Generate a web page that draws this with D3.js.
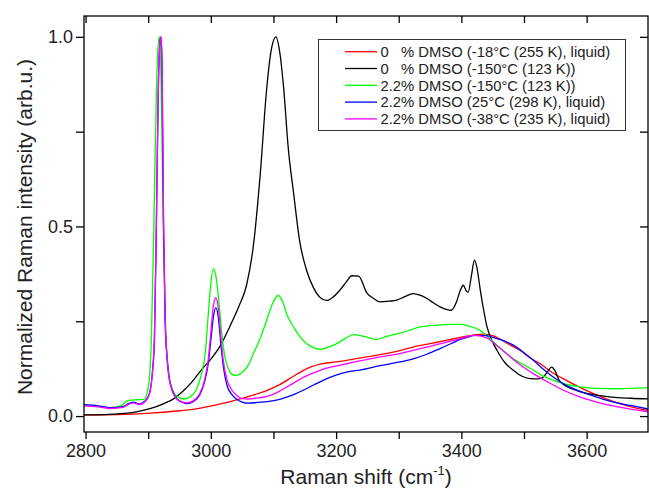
<!DOCTYPE html>
<html>
<head>
<meta charset="utf-8">
<script src="https://cdn.jsdelivr.net/npm/d3@7"></script>
<style>
  body { margin: 0; background: #fff; }
  svg { display: block; font-family: "Liberation Sans", Arial, sans-serif; }
</style>
</head>
<body>
<div id="chart"></div>
<script>
// spectra: [Raman shift (cm-1), normalized intensity]
const water255 = [[2797,0.003],[2850,0.004],[2904,0.008],[2950,0.014],[2984,0.021],[3010,0.03],[3037,0.041],[3065,0.054],[3090,0.068],[3110,0.083],[3130,0.103],[3145,0.118],[3160,0.13],[3175,0.137],[3200,0.143],[3217,0.147],[3245,0.155],[3270,0.162],[3300,0.172],[3323,0.182],[3350,0.191],[3377,0.2],[3400,0.208],[3420,0.214],[3435,0.216],[3450,0.212],[3462,0.203],[3475,0.19],[3494,0.173],[3510,0.153],[3526,0.138],[3545,0.115],[3568,0.094],[3590,0.075],[3611,0.059],[3630,0.046],[3653,0.033],[3675,0.023],[3700,0.014]];

const water123 = [[2797,0.003],[2830,0.004],[2860,0.007],[2877,0.01],[2904,0.02],[2925,0.033],[2941,0.046],[2955,0.065],[2970,0.09],[2984,0.12],[3000,0.15],[3015,0.185],[3030,0.235],[3045,0.29],[3057,0.345],[3068,0.45],[3079,0.64],[3089,0.86],[3097,0.97],[3104,1.0],[3110,0.96],[3116,0.87],[3124,0.7],[3132,0.59],[3142,0.46],[3153,0.384],[3164,0.338],[3175,0.312],[3185,0.305],[3196,0.315],[3206,0.332],[3217,0.355],[3225,0.37],[3236,0.369],[3249,0.325],[3260,0.31],[3270,0.301],[3285,0.303],[3297,0.306],[3310,0.315],[3323,0.323],[3335,0.318],[3345,0.31],[3356,0.298],[3366,0.288],[3384,0.279],[3392,0.3],[3398,0.33],[3403,0.345],[3408,0.33],[3411,0.327],[3416,0.37],[3421,0.411],[3425,0.39],[3430,0.335],[3435,0.285],[3441,0.235],[3450,0.195],[3457,0.173],[3470,0.14],[3483,0.121],[3497,0.105],[3510,0.099],[3522,0.098],[3531,0.103],[3538,0.118],[3544,0.129],[3550,0.118],[3556,0.095],[3563,0.083],[3580,0.07],[3600,0.06],[3616,0.055],[3640,0.05],[3670,0.047],[3700,0.045]];

const dmso123 = [[2797,0.028],[2820,0.025],[2840,0.022],[2858,0.028],[2866,0.04],[2880,0.043],[2893,0.044],[2900,0.075],[2905,0.2],[2909,0.5],[2913,0.85],[2916,0.98],[2918,1.0],[2920,0.94],[2924,0.5],[2928,0.22],[2933,0.11],[2940,0.065],[2948,0.05],[2956,0.045],[2966,0.05],[2977,0.07],[2985,0.11],[2991,0.165],[2996,0.27],[3000,0.35],[3004,0.389],[3008,0.37],[3013,0.3],[3018,0.21],[3022,0.16],[3028,0.125],[3034,0.11],[3040,0.107],[3050,0.115],[3060,0.135],[3068,0.165],[3080,0.21],[3089,0.252],[3098,0.295],[3108,0.318],[3115,0.3],[3122,0.265],[3132,0.235],[3142,0.21],[3153,0.191],[3165,0.18],[3176,0.176],[3190,0.183],[3201,0.191],[3215,0.205],[3228,0.215],[3245,0.21],[3265,0.202],[3280,0.21],[3297,0.217],[3315,0.225],[3334,0.235],[3360,0.24],[3382,0.242],[3400,0.242],[3410,0.238],[3430,0.226],[3445,0.205],[3457,0.187],[3470,0.168],[3483,0.151],[3500,0.135],[3515,0.121],[3530,0.106],[3547,0.094],[3565,0.085],[3590,0.077],[3615,0.073],[3643,0.072],[3670,0.073],[3700,0.075]];

const dmso298 = [[2797,0.03],[2820,0.027],[2840,0.022],[2860,0.025],[2870,0.034],[2877,0.037],[2885,0.032],[2895,0.04],[2902,0.06],[2907,0.12],[2910,0.2],[2913,0.5],[2916,0.85],[2919,0.99],[2920.5,1.0],[2922,0.93],[2924.5,0.5],[2927,0.25],[2932,0.12],[2938,0.07],[2946,0.045],[2955,0.036],[2962,0.033],[2972,0.038],[2982,0.055],[2990,0.09],[2996,0.14],[3000,0.2],[3004,0.26],[3008,0.286],[3012,0.26],[3016,0.19],[3020,0.13],[3026,0.08],[3033,0.058],[3041,0.045],[3050,0.037],[3060,0.034],[3075,0.036],[3090,0.038],[3110,0.044],[3130,0.055],[3150,0.07],[3164,0.082],[3180,0.095],[3200,0.108],[3217,0.116],[3240,0.122],[3270,0.133],[3300,0.142],[3323,0.151],[3345,0.163],[3366,0.178],[3385,0.192],[3398,0.202],[3410,0.208],[3422,0.213],[3440,0.212],[3455,0.205],[3470,0.197],[3483,0.187],[3500,0.167],[3515,0.147],[3530,0.125],[3545,0.105],[3563,0.085],[3590,0.065],[3616,0.05],[3640,0.038],[3670,0.028],[3700,0.018]];

const dmso235 = [[2797,0.027],[2820,0.024],[2840,0.02],[2860,0.023],[2870,0.032],[2877,0.035],[2885,0.03],[2895,0.038],[2902,0.058],[2907,0.12],[2910,0.22],[2913,0.5],[2916,0.85],[2919,0.99],[2920.5,1.0],[2922,0.94],[2924.5,0.52],[2927,0.26],[2932,0.12],[2938,0.068],[2946,0.045],[2955,0.037],[2962,0.035],[2972,0.04],[2982,0.058],[2990,0.095],[2996,0.15],[3000,0.22],[3004,0.29],[3008,0.312],[3012,0.285],[3016,0.21],[3020,0.145],[3026,0.095],[3033,0.07],[3041,0.055],[3050,0.046],[3060,0.045],[3075,0.048],[3090,0.052],[3110,0.066],[3130,0.085],[3150,0.104],[3164,0.114],[3180,0.124],[3200,0.132],[3217,0.138],[3240,0.146],[3270,0.156],[3300,0.164],[3323,0.173],[3350,0.184],[3377,0.195],[3400,0.205],[3419,0.213],[3440,0.207],[3455,0.188],[3472,0.165],[3490,0.14],[3515,0.112],[3540,0.088],[3563,0.068],[3590,0.05],[3616,0.037],[3650,0.024],[3700,0.011]];

const seriesNames = [
  "0   % DMSO (-18°C (255 K), liquid)",
  "0   % DMSO (-150°C (123 K))",
  "2.2% DMSO (-150°C (123 K))",
  "2.2% DMSO (25°C (298 K), liquid)",
  "2.2% DMSO (-38°C (235 K), liquid)"
];
const seriesData = [water255, water123, dmso123, dmso298, dmso235];
const seriesColors = ["#ff0000", "#000000", "#00ff00", "#0000ff", "#ff00ff"];

const xTicks = d3.range(2800, 3701, 100);
const yTicks = [0, 0.25, 0.5, 0.75, 1.0];

const width = 649, height = 490;
const margin = { top: 16, right: 1, bottom: 58, left: 84 };
const innerW = width - margin.left - margin.right;
const innerH = height - margin.top - margin.bottom;

const svg = d3.select("#chart").append("svg")
  .attr("width", width)
  .attr("height", height);

const x = d3.scaleLinear().domain([2797.5, 3698]).range([margin.left, margin.left + innerW]);
const y = d3.scaleLinear().domain([-0.042, 1.055]).range([margin.top + innerH, margin.top]);

svg.append("clipPath").attr("id", "plot")
  .append("rect")
  .attr("x", margin.left).attr("y", margin.top)
  .attr("width", innerW).attr("height", innerH);

// curves
const line = d3.line()
  .x(d => x(d[0]))
  .y(d => y(d[1]))
  .curve(d3.curveMonotoneX);

svg.append("g")
  .attr("clip-path", "url(#plot)")
  .selectAll("path")
  .data(seriesData)
  .join("path")
  .attr("fill", "none")
  .attr("stroke", (d, i) => seriesColors[i])
  .attr("stroke-width", 1.3)
  .attr("stroke-linejoin", "round")
  .attr("d", line);

// axes
const fmtX = d => d % 200 === 0 ? d : "";
const fmtY = d => (Math.round(d * 100) % 50 === 0) ? d3.format(".1f")(d) : "";

const axisStyle = g => {
  g.select(".domain").remove();
  g.selectAll(".tick line").attr("stroke", "#000").attr("stroke-width", 1.3);
  g.selectAll(".tick text").attr("fill", "#222").attr("font-size", 18);
};

svg.append("g")
  .attr("transform", `translate(0,${margin.top + innerH})`)
  .call(d3.axisBottom(x).tickValues(xTicks).tickFormat(fmtX).tickSize(7).tickPadding(5))
  .call(axisStyle);

svg.append("g")
  .attr("transform", `translate(0,${margin.top})`)
  .call(d3.axisBottom(x).tickValues(xTicks).tickFormat("").tickSize(7))
  .call(axisStyle);

svg.append("g")
  .attr("transform", `translate(${margin.left},0)`)
  .call(d3.axisLeft(y).tickValues(yTicks).tickFormat(fmtY).tickSize(8).tickPadding(3))
  .call(axisStyle);

svg.append("g")
  .attr("transform", `translate(${margin.left + innerW},0)`)
  .call(d3.axisRight(y).tickValues(yTicks).tickFormat("").tickSize(-8))
  .call(axisStyle);

// frame
svg.append("rect")
  .attr("x", margin.left).attr("y", margin.top)
  .attr("width", innerW).attr("height", innerH)
  .attr("fill", "none")
  .attr("stroke", "#000")
  .attr("stroke-width", 1.3);

// axis titles
const xTitle = svg.append("text")
  .attr("x", margin.left + innerW / 2)
  .attr("y", 484)
  .attr("text-anchor", "middle")
  .attr("font-size", 21)
  .attr("fill", "#222");
xTitle.append("tspan").text("Raman shift (cm");
xTitle.append("tspan").attr("font-size", 13).attr("dy", -9).text("-1");
xTitle.append("tspan").attr("dy", 9).text(")");

svg.append("text")
  .attr("transform", `translate(32,${margin.top + innerH / 2 + 3}) rotate(-90)`)
  .attr("text-anchor", "middle")
  .attr("font-size", 21)
  .attr("fill", "#222")
  .text("Normalized Raman intensity (arb.u.)");

// legend
const legend = svg.append("g");
legend.append("rect")
  .attr("x", 318.5).attr("y", 39.5)
  .attr("width", 307).attr("height", 91)
  .attr("fill", "#fff")
  .attr("stroke", "#333")
  .attr("stroke-width", 1);

const row = legend.selectAll("g.row")
  .data(seriesNames)
  .join("g")
  .attr("class", "row")
  .attr("transform", (d, i) => `translate(0,${51.7 + i * 16.8})`);

row.append("line")
  .attr("x1", 345).attr("x2", 377)
  .attr("stroke", (d, i) => seriesColors[i])
  .attr("stroke-width", 1.3);

row.append("text")
  .attr("x", 380.5)
  .attr("dy", "0.36em")
  .attr("font-size", 14.8)
  .attr("fill", "#222")
  .style("white-space", "pre")
  .text(d => d);
</script>
</body>
</html>
